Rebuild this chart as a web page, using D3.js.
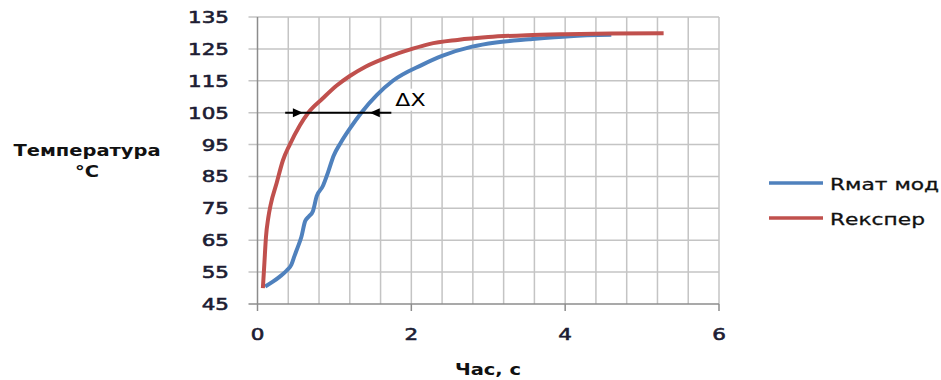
<!DOCTYPE html>
<html>
<head>
<meta charset="utf-8">
<script src="https://cdn.jsdelivr.net/npm/d3@7"></script>
<style>
  html, body { margin: 0; padding: 0; background: #fff; }
  svg { display: block; }
</style>
</head>
<body>
<div id="chart"></div>
<script>
  // Rмат мод (model)
  const modelX = [0.10, 0.20, 0.29, 0.38, 0.44, 0.48, 0.52, 0.57, 0.62, 0.67, 0.72, 0.77, 0.85, 0.92, 0.99, 1.08, 1.20, 1.35, 1.55, 1.76, 2.14, 2.40, 2.79, 3.10, 3.53, 4.06, 4.60];
  const modelY = [50.5, 52.0, 53.6, 55.5, 57.3, 60.0, 62.6, 66.0, 71.0, 72.5, 74.1, 78.8, 82.0, 86.5, 91.5, 95.5, 100.0, 105.0, 110.5, 115.0, 120.0, 122.8, 125.7, 127.0, 128.0, 129.0, 129.4];

  // Rекспер (experiment)
  const expX = [0.07, 0.09, 0.11, 0.14, 0.17, 0.25, 0.33, 0.42, 0.55, 0.66, 0.85, 1.03, 1.20, 1.41, 1.70, 2.01, 2.23, 2.60, 3.00, 3.50, 4.00, 4.60, 5.28];
  const expY = [50.0, 58.0, 66.0, 72.0, 76.0, 83.0, 90.0, 95.0, 101.0, 105.0, 109.5, 113.5, 116.5, 119.5, 122.5, 125.0, 126.5, 127.8, 128.7, 129.3, 129.6, 129.8, 129.9];

  const seriesNames = ['Rмат мод', 'Rекспер'];
  const xTicks = [0, 2, 4, 6];
  const yTicks = [45, 55, 65, 75, 85, 95, 105, 115, 125, 135];

  // ΔX annotation: line ends, arrow tips, at temperature 105
  const dxLine = [0.36, 1.74];
  const dxTips = [0.59, 1.46];
  const dxLevel = 105;

  const W = 941, H = 380;
  const SX = 1.3; // the original is stretched horizontally
  const BLUE = '#4f81bd', RED = '#c0504d';

  const svg = d3.select('#chart').append('svg')
    .attr('width', W).attr('height', H);

  const x = d3.scaleLinear().domain([0, 6]).range([257.5, 719]);
  const y = d3.scaleLinear().domain([45, 135]).range([304, 17]);

  function label(parent, px, py, txt, anchor, size, weight, fill, halo, sx) {
    const g = parent.append('g')
      .attr('transform', 'translate(' + px + ',' + py + ') scale(' + (sx || SX) + ',1)');
    const t = g.append('text')
      .attr('text-anchor', anchor)
      .attr('font-family', 'DejaVu Sans, Verdana, sans-serif')
      .attr('font-size', size)
      .attr('font-weight', weight)
      .attr('fill', fill)
      .text(txt);
    if (halo) t.attr('stroke', fill).attr('stroke-width', halo);
    return g;
  }

  // grid
  const grid = svg.append('g');
  grid.selectAll('.vg')
    .data(d3.range(1, 16).map(i => i * 0.4))
    .join('line')
    .attr('x1', d => x(d)).attr('x2', d => x(d))
    .attr('y1', y(135)).attr('y2', y(45))
    .attr('stroke', '#c4c4c4').attr('stroke-width', 1.5);
  grid.selectAll('.hg')
    .data(yTicks.slice(1))
    .join('line')
    .attr('x1', x(0) - 9).attr('x2', x(6))
    .attr('y1', d => y(d)).attr('y2', d => y(d))
    .attr('stroke', '#c4c4c4').attr('stroke-width', 1.5);

  // axes
  const ax = svg.append('g');
  ax.append('line')
    .attr('x1', x(0)).attr('x2', x(0)).attr('y1', y(135)).attr('y2', y(45))
    .attr('stroke', '#8c8c8c').attr('stroke-width', 1.5);
  ax.append('line')
    .attr('x1', x(0) - 9).attr('x2', x(6)).attr('y1', y(45)).attr('y2', y(45))
    .attr('stroke', '#8c8c8c').attr('stroke-width', 1.5);
  ax.selectAll('.xt')
    .data(xTicks)
    .join('line')
    .attr('x1', d => x(d)).attr('x2', d => x(d))
    .attr('y1', y(45)).attr('y2', y(45) + 7)
    .attr('stroke', '#8c8c8c').attr('stroke-width', 1.5);

  yTicks.forEach(v => label(svg, 229, y(v) + 6, String(v), 'end', 16.5, 'normal', '#1d1d33', 0.6));
  xTicks.forEach(v => label(svg, x(v), 340, String(v), 'middle', 16.5, 'normal', '#1d1d33', 0.6));

  // axis titles
  label(svg, 87, 156, 'Температура', 'middle', 15, 'bold', '#111');
  label(svg, 87, 177, '°C', 'middle', 15, 'bold', '#111');
  label(svg, 488, 375, 'Час, с', 'middle', 15, 'bold', '#111');

  // lines
  const line = d3.line().curve(d3.curveMonotoneX).x(d => x(d[0])).y(d => y(d[1]));
  svg.append('path')
    .datum(d3.zip(modelX, modelY))
    .attr('d', line)
    .attr('fill', 'none').attr('stroke', BLUE)
    .attr('stroke-width', 4).attr('stroke-linejoin', 'round');
  svg.append('path')
    .datum(d3.zip(expX, expY))
    .attr('d', line)
    .attr('fill', 'none').attr('stroke', RED)
    .attr('stroke-width', 4).attr('stroke-linejoin', 'round');

  // ΔX annotation
  const ann = svg.append('g');
  const yl = y(dxLevel);
  ann.append('rect')
    .attr('x', x(dxLine[1]) + 2).attr('y', yl - 24)
    .attr('width', 48).attr('height', 22).attr('fill', '#fff');
  ann.append('line')
    .attr('x1', x(dxLine[0])).attr('x2', x(dxLine[1]))
    .attr('y1', yl).attr('y2', yl)
    .attr('stroke', '#000').attr('stroke-width', 2);
  ann.append('path')
    .attr('d', 'M' + x(dxTips[0]) + ',' + yl + 'l-10,-4.5v9z')
    .attr('fill', '#000');
  ann.append('path')
    .attr('d', 'M' + x(dxTips[1]) + ',' + yl + 'l10,-4.5v9z')
    .attr('fill', '#000');
  label(svg, x(dxLine[1]) + 4, yl - 7, 'ΔX', 'start', 17, 'normal', '#000');

  // legend
  const legend = svg.append('g');
  [[BLUE, 183], [RED, 218]].forEach((c, i) => {
    legend.append('line')
      .attr('x1', 769).attr('x2', 823).attr('y1', c[1]).attr('y2', c[1])
      .attr('stroke', c[0]).attr('stroke-width', 3.5);
    label(legend, 830, c[1] + 7, seriesNames[i], 'start', 16, 'normal', '#111', 0.3, 1.36);
  });
</script>
</body>
</html>
